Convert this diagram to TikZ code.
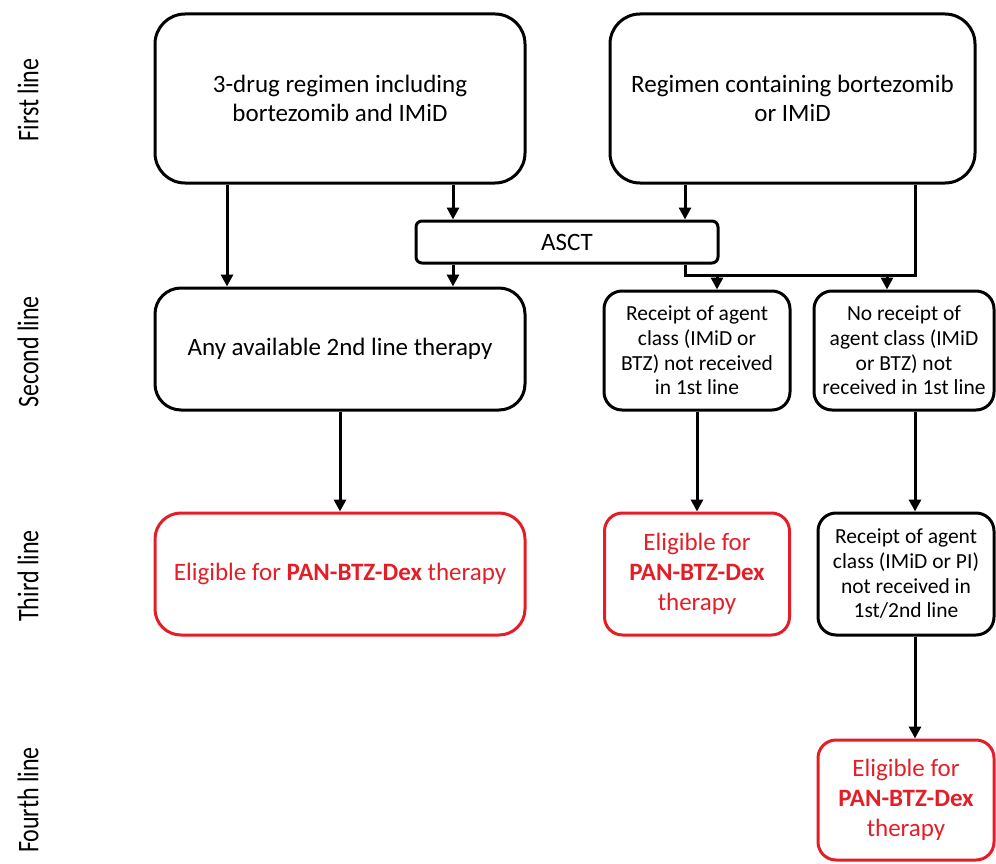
\documentclass[tikz,border=0pt]{standalone}
\usepackage{fontspec}
\setmainfont{Carlito}
\newfontfamily\rowfont[FakeStretch=0.8]{Carlito}
\usetikzlibrary{arrows.meta}
\definecolor{eligred}{RGB}{228,30,38}

\begin{document}
\begin{tikzpicture}[x=1pt,y=-1pt,
    box/.style={draw,line width=3pt,rounded corners=#1,align=center,
        inner sep=0pt,font=\fontsize{25}{29}\selectfont},
    box/.default=26pt,
    small/.style={font=\fontsize{21.5}{24.7}\selectfont},
    elig/.style={box=#1,draw=eligred,text=eligred,
        font=\fontsize{25}{30}\selectfont},
    elig/.default=26pt,
    flow/.style={line width=3pt,-{Triangle[length=12pt,width=12pt]}},
    rowlab/.style={rotate=90,font=\rowfont\fontsize{30}{32}\selectfont}]
\useasboundingbox (0,0) rectangle (996,864);

% row labels
\node[rowlab] (l1) at (28,100) {First line};
\node[rowlab] (l2) at (28,352) {Second line};
\node[rowlab] (l3) at (28,576) {Third line};
\node[rowlab] (l4) at (28,800) {Fourth line};

% first line
\node[box=30pt,minimum width=370pt,minimum height=169pt] (reg3) at (340,98.5)
    {3-drug regimen including\\bortezomib and IMiD};
\node[box=30pt,minimum width=365pt,minimum height=169pt] (reg2) at (792.5,98.5)
    {Regimen containing bortezomib\\or IMiD};
\node[box=6pt,minimum width=302pt,minimum height=42pt] (asct) at (567,242) {ASCT};

% second line
\node[box,minimum width=370pt,minimum height=122pt] (any) at (340,349)
    {Any available 2nd line therapy};
\node[box=18pt,small,minimum width=186pt,minimum height=119pt] (rcpt) at (697,350.5)
    {Receipt of agent\\class (IMiD or\\BTZ) not received\\in 1st line};
\node[box=18pt,small,minimum width=180pt,minimum height=119pt] (norc) at (904,350.5)
    {No receipt of\\agent class (IMiD\\or BTZ) not\\received in 1st line};

% third line
\node[elig,minimum width=370pt,minimum height=122pt] (el1) at (340,574)
    {Eligible for \textbf{PAN-BTZ-Dex} therapy};
\node[elig=18pt,minimum width=185pt,minimum height=122pt] (el2) at (697,574)
    {Eligible for\\\textbf{PAN-BTZ-Dex}\\therapy};
\node[box=18pt,small,minimum width=176pt,minimum height=122pt] (rcpi) at (906,574)
    {Receipt of agent\\class (IMiD or PI)\\not received in\\1st/2nd line};

% fourth line
\node[elig=18pt,minimum width=176pt,minimum height=120pt] (el3) at (906,800)
    {Eligible for\\\textbf{PAN-BTZ-Dex}\\therapy};

\coordinate (jl) at (685,275);
\coordinate (jr) at (915,275);
\coordinate (dj) at (717,275);
\coordinate (ej) at (887,275);

\draw[flow] ([xshift=-113pt]reg3.south) -- ([xshift=-113pt]any.north);
\draw[flow] ([xshift=113pt]reg3.south) -- ([xshift=-114pt]asct.north);
\draw[flow] ([xshift=-114pt]asct.south) -- ([xshift=113pt]any.north);
\draw[flow] ([xshift=-107.5pt]reg2.south) -- ([xshift=118pt]asct.north);
\draw[line width=3pt] ([xshift=118pt]asct.south) -- (jl) -- (jr)
    -- ([xshift=122.5pt]reg2.south);
\draw[flow] (dj) -- (dj |- rcpt.north);
\draw[flow] (ej) -- (ej |- norc.north);
\draw[flow] (any.south) -- (el1.north);
\draw[flow] (rcpt.south) -- (el2.north);
\draw[flow] (norc.south -| jr) -- (jr |- rcpi.north);
\draw[flow] (rcpi.south -| jr) -- (jr |- el3.north);
\end{tikzpicture}
\end{document}
